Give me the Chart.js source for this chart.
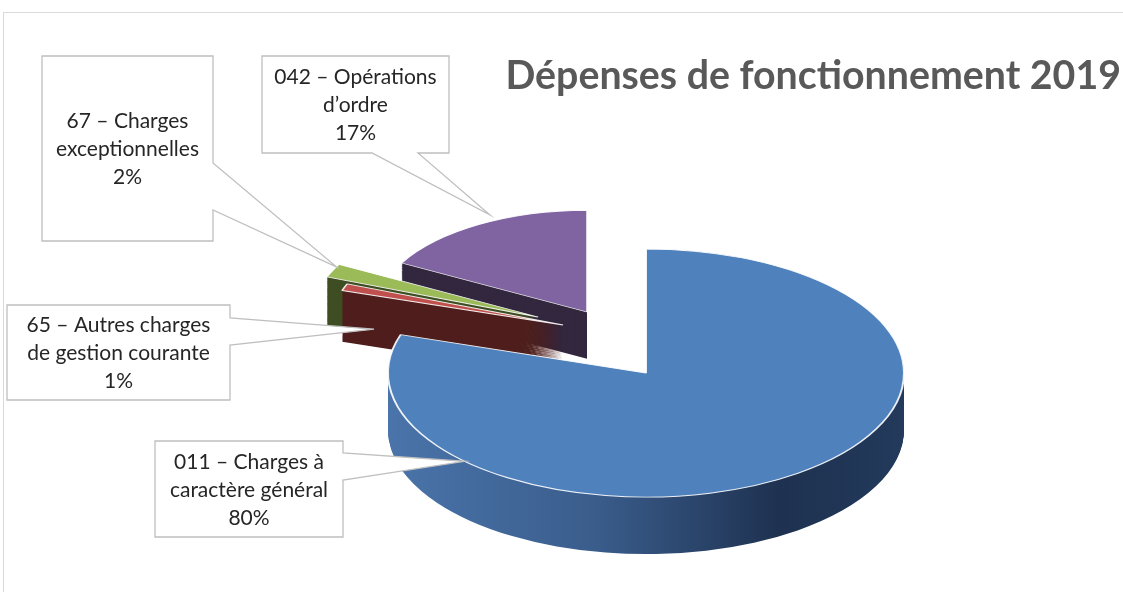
<!DOCTYPE html>
<html lang="fr">
<head>
<meta charset="utf-8">
<title>Dépenses de fonctionnement 2019</title>
<script src="https://cdn.jsdelivr.net/npm/chart.js@4.4.1/dist/chart.umd.min.js"></script>
<style>
  html, body { margin: 0; padding: 0; background: #fff; overflow: hidden; }
  .frame { position: absolute; left: 3px; top: 12px; width: 1200px; height: 700px; border: 1px solid #d9d9d9; box-sizing: border-box; }
  #pie { position: absolute; left: 0; top: 0; }
</style>
</head>
<body>
<div class="frame"></div>
<canvas id="pie" width="1123" height="592"></canvas>
<script>
// data
const categories = [
  ['011 – Charges à', 'caractère général'],
  ['65 – Autres charges', 'de gestion courante'],
  ['67 – Charges', 'exceptionnelles'],
  ['042 – Opérations', 'd’ordre']
];
const shares = [80, 1, 2, 17];

// look
const topColors = ['#4f81bd', '#c0504d', '#9bbb59', '#8064a2'];
const sideColors = [null, '#4f1e1d', '#3f4e23', '#33283f'];
// exploded slices: screen offset of each slice's point, and a shrink
// that fakes the perspective of the slices lying further back
const explodeOffset = [[0, 0], [-83, -48], [-108, -56], [-59, -61]];
const shrink = [1, 0.9, 0.88, 0.82];

// where the tilted pie sits on the page
const CX = 646, CY = 373, TILT = 0.481, DEPTH = 57;

// callout boxes: [left, top, right, bottom], side with the pointer, pointer base,
// and where the tip lands (angle fraction, radius fraction, depth fraction)
const callouts = [
  { box: [155, 441, 343, 537], side: 'right', base: [453, 480], at: [0.78, 1, 0] },
  { box: [7, 305, 230, 400], side: 'right', base: [318, 345], at: [0.5, 0.865, 0.72] },
  { box: [42, 56, 213, 241], side: 'right', base: [163, 210], at: [0.8, 1, 0] },
  { box: [262, 56, 449, 153], side: 'bottom', base: [372, 418], at: [0.58, 1.06, 0] }
];

Chart.defaults.font.family = 'Lato';

// draws the pie squashed, with a side wall under each slice
const pie3d = {
  id: 'pie3d',
  beforeDatasetsDraw(chart) {
    const ctx = chart.ctx;
    const arcs = chart.getDatasetMeta(0).data;
    const ox = arcs[0].x, oy = arcs[0].y;
    const order = arcs.map((a, i) => i).sort((i, j) => explodeOffset[i][1] - explodeOffset[j][1]);

    const place = (i, d) => {
      const s = shrink[i];
      ctx.setTransform(s, 0, 0, s * TILT,
        CX + explodeOffset[i][0] - s * ox,
        CY + explodeOffset[i][1] + d * s - s * TILT * oy);
    };

    const blueSide = ctx.createLinearGradient(ox - 258, 0, ox + 258, 0);
    blueSide.addColorStop(0, '#4a74aa');
    blueSide.addColorStop(0.4, '#3a5d8c');
    blueSide.addColorStop(0.76, '#1e3150');
    blueSide.addColorStop(1, '#233a5c');

    ctx.save();
    order.forEach(i => {
      const arc = arcs[i];
      const base = arc.options;
      arc.options = Object.assign({}, base, { backgroundColor: sideColors[i] || blueSide, borderWidth: 0 });
      for (let d = DEPTH; d > 0; d -= 1) {
        place(i, d);
        arc.draw(ctx);
      }
      arc.options = base;
    });
    order.forEach(i => {
      place(i, 0);
      arcs[i].draw(ctx);
    });
    ctx.restore();
    return false;
  }
};

const calloutPlugin = {
  id: 'callouts',
  afterDraw(chart) {
    const ctx = chart.ctx;
    const arcs = chart.getDatasetMeta(0).data;
    const total = shares.reduce((s, v) => s + v, 0);

    ctx.save();
    ctx.font = '21px Lato';
    callouts.forEach((c, i) => {
      const arc = arcs[i];
      const s = shrink[i];
      const a = arc.startAngle + (arc.endAngle - arc.startAngle) * c.at[0];
      const r = arc.outerRadius * c.at[1] * s;
      const tx = CX + explodeOffset[i][0] + Math.cos(a) * r;
      const ty = CY + explodeOffset[i][1] + TILT * Math.sin(a) * r + DEPTH * s * c.at[2];
      const [l, t, rr, b] = c.box;

      ctx.beginPath();
      ctx.moveTo(l, t);
      ctx.lineTo(rr, t);
      if (c.side === 'right') {
        ctx.lineTo(rr, c.base[0]);
        ctx.lineTo(tx, ty);
        ctx.lineTo(rr, c.base[1]);
      }
      ctx.lineTo(rr, b);
      if (c.side === 'bottom') {
        ctx.lineTo(c.base[1], b);
        ctx.lineTo(tx, ty);
        ctx.lineTo(c.base[0], b);
      }
      ctx.lineTo(l, b);
      ctx.closePath();
      ctx.fillStyle = '#fff';
      ctx.fill();
      ctx.strokeStyle = '#bfbfbf';
      ctx.lineWidth = 1.3;
      ctx.stroke();

      const lines = categories[i].concat(Math.round(shares[i] / total * 100) + '%');
      ctx.fillStyle = '#262626';
      ctx.textAlign = 'center';
      ctx.textBaseline = 'middle';
      const mid = (t + b) / 2 + 1;
      lines.forEach((txt, k) => {
        ctx.fillText(txt, (l + rr) / 2, mid + (k - (lines.length - 1) / 2) * 28);
      });
    });
    ctx.restore();
  }
};

new Chart(document.getElementById('pie'), {
  type: 'pie',
  data: {
    labels: categories,
    datasets: [{
      data: shares,
      backgroundColor: topColors,
      borderColor: 'rgba(255,255,255,0.9)',
      borderWidth: 2
    }]
  },
  options: {
    responsive: false,
    animation: false,
    events: [],
    radius: 258,
    layout: { padding: { right: 2 } },
    plugins: {
      legend: { display: false },
      tooltip: { enabled: false },
      title: {
        display: true,
        text: 'Dépenses de fonctionnement 2019',
        align: 'end',
        color: '#595959',
        font: { family: 'Lato', size: 39.3, weight: 'bold' },
        padding: { top: 53, bottom: 0 }
      }
    }
  },
  plugins: [pie3d, calloutPlugin]
});
</script>
</body>
</html>
